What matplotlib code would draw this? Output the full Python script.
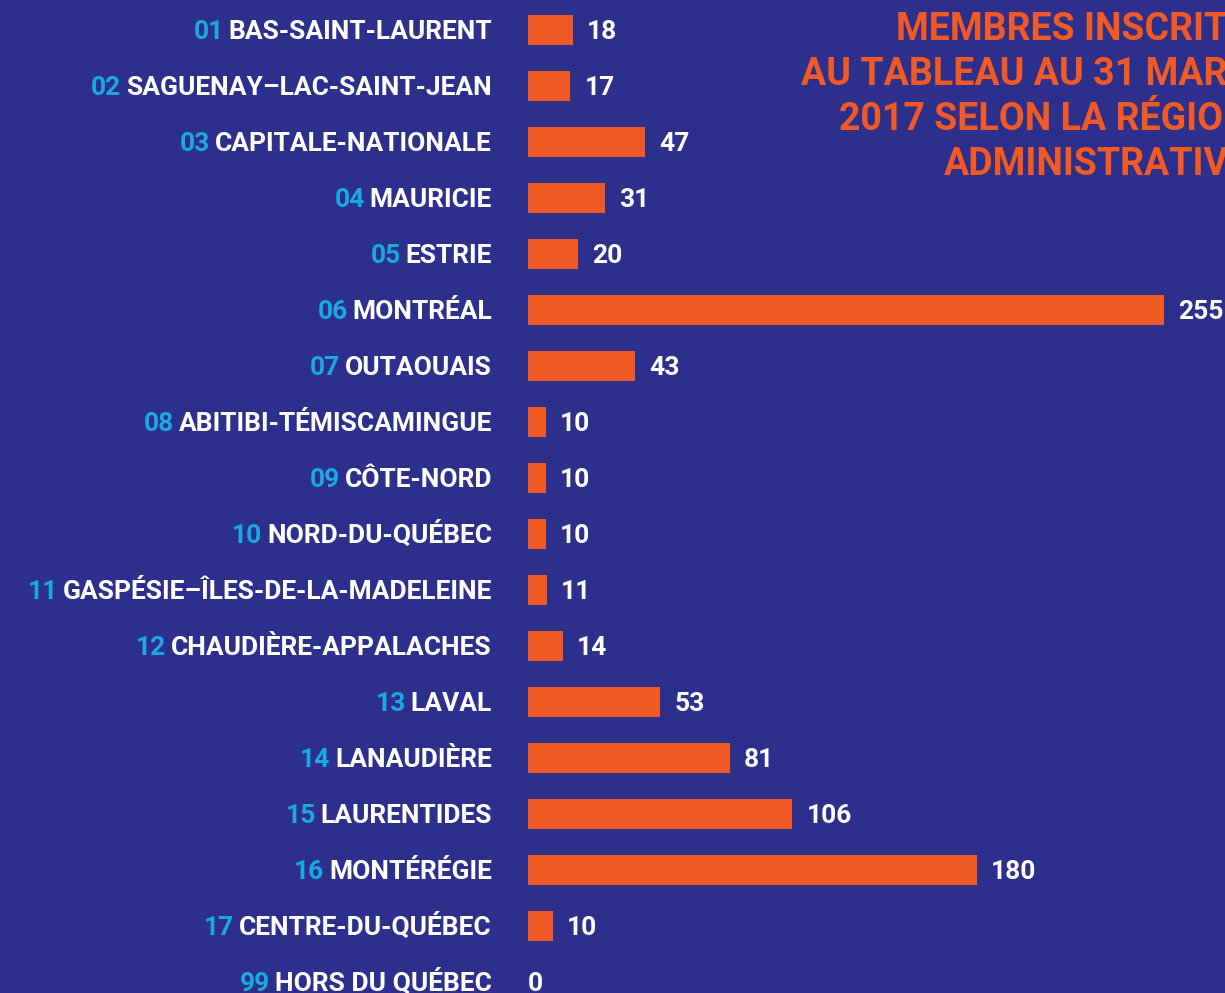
import numpy as np
import matplotlib.pyplot as plt

codes = ['01', '02', '03', '04', '05', '06', '07', '08', '09', '10',
         '11', '12', '13', '14', '15', '16', '17', '99']
regions = ['BAS-SAINT-LAURENT', 'SAGUENAY–LAC-SAINT-JEAN', 'CAPITALE-NATIONALE',
           'MAURICIE', 'ESTRIE', 'MONTRÉAL', 'OUTAOUAIS', 'ABITIBI-TÉMISCAMINGUE',
           'CÔTE-NORD', 'NORD-DU-QUÉBEC', 'GASPÉSIE–ÎLES-DE-LA-MADELEINE',
           'CHAUDIÈRE-APPALACHES', 'LAVAL', 'LANAUDIÈRE', 'LAURENTIDES',
           'MONTÉRÉGIE', 'CENTRE-DU-QUÉBEC', 'HORS DU QUÉBEC']
members = [18, 17, 47, 31, 20, 255, 43, 10, 10, 10, 11, 14, 53, 81, 106, 180, 10, 0]
# bar lengths as drawn in the original (small regions drawn shorter than their label)
bar_len = [18, 17, 47, 31, 20, 255, 43, 7.3, 7.3, 7.3, 7.7, 14, 53, 81, 106, 180, 10, 0]
title_lines = ['MEMBRES INSCRITS', 'AU TABLEAU AU 31 MARS',
               '2017 SELON LA RÉGION', 'ADMINISTRATIVE']

bg = '#2D2F8C'
orange = '#F15A24'
blue = '#1BA9E1'
W, H = 1225, 993
fs = 19
cap = 0.711 * fs  # cap height in points, used to centre caps on the bars

plt.rcParams['font.family'] = ['Roboto', 'DejaVu Sans']

fig = plt.figure(figsize=(W / 100, H / 100), dpi=100, facecolor=bg)
ax = fig.add_axes([528 / W, 0, (1164 - 528) / W, 1])
ax.set_facecolor(bg)

y = np.arange(len(members))
ax.barh(y, bar_len, height=0.55, color=orange)
ax.set_xlim(0, 255)
ax.set_ylim((H - 30) / 56, -30 / 56)
ax.axis('off')

for i, (c, r, v, b) in enumerate(zip(codes, regions, members, bar_len)):
    t = ax.annotate(r, xy=(0, i), xytext=(-36 * 0.72, -cap / 2), textcoords='offset points',
                    ha='right', va='baseline', color='white', fontsize=fs, fontweight='bold')
    ax.annotate(c, xy=(0, 0), xycoords=t, xytext=(-3.5, 0), textcoords='offset points',
                ha='right', va='bottom', color=blue, fontsize=fs, fontweight='bold')
    off = 14 * 0.72 if b > 0 else 0
    ax.annotate(str(v), xy=(b, i), xytext=(off, -cap / 2), textcoords='offset points',
                ha='left', va='baseline', color='white', fontsize=fs, fontweight='bold')

for k, line in enumerate(title_lines):
    fig.text(1250 / W, 1 - (40 + 45 * k) / H, line, ha='right', va='baseline',
             color=orange, fontsize=27, fontweight='bold')

fig.savefig('out.png', dpi=100, facecolor=bg)
